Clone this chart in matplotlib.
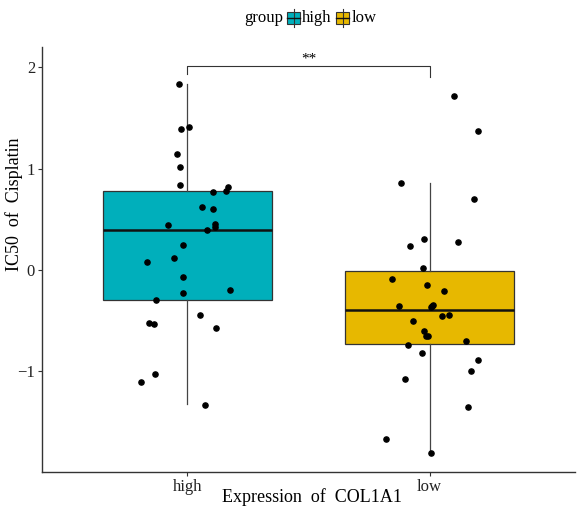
import matplotlib.pyplot as plt
from matplotlib.patches import Rectangle
from matplotlib.lines import Line2D
import numpy as np

plt.rcParams['font.family'] = ['Liberation Serif', 'DejaVu Serif']

# ---- data ----
groups = ["high", "low"]
colors = {"high": "#00AFBB", "low": "#E7B800"}

# box statistics (q1, median, q3, whisker low, whisker high)
box_high = dict(q1=-0.296, med=0.395, q3=0.78, whislo=-1.32, whishi=1.83)
box_low = dict(q1=-0.73, med=-0.40, q3=-0.01, whislo=-1.81, whishi=0.86)

# jittered points: x offset from group centre, value
high_dx = [-0.036, -0.025, 0.005, -0.041, -0.029, -0.029, 0.107, 0.159, 0.169,
           0.059, 0.106, -0.080, 0.113, 0.116, 0.081, -0.019, -0.055, -0.165,
           -0.018, -0.019, 0.175, -0.131, 0.054, -0.160, -0.139, 0.120, -0.135,
           -0.190, 0.074]
high_y = [1.83, 1.39, 1.41, 1.14, 1.02, 0.84, 0.77, 0.78, 0.82, 0.625, 0.60,
          0.44, 0.45, 0.42, 0.39, 0.25, 0.12, 0.076, -0.07, -0.23, -0.20, -0.30,
          -0.44, -0.52, -0.53, -0.57, -1.03, -1.11, -1.33]

low_dx = [0.099, 0.198, -0.120, 0.182, -0.022, -0.080, 0.116, -0.026, -0.156,
          -0.012, 0.059, -0.128, 0.004, 0.012, 0.008, 0.052, 0.079, -0.070,
          -0.022, -0.015, -0.006, 0.149, -0.088, -0.032, 0.198, 0.169, -0.101,
          0.159, -0.180, 0.004]
low_y = [1.72, 1.37, 0.86, 0.70, 0.31, 0.24, 0.28, 0.02, -0.09, -0.15, -0.21,
         -0.36, -0.37, -0.345, -0.36, -0.45, -0.44, -0.50, -0.60, -0.65, -0.65,
         -0.70, -0.74, -0.82, -0.89, -1.00, -1.08, -1.35, -1.67, -1.81]

# ---- plot ----
W, H = 578, 509
fig = plt.figure(figsize=(W / 100, H / 100), dpi=100)
ax = fig.add_axes([42 / W, 37 / H, 533 / W, 425 / H])

stats = []
for name, b in zip(groups, [box_high, box_low]):
    s = dict(b)
    s["label"] = name
    stats.append(s)

bp = ax.bxp(stats, positions=[1, 2], widths=0.7, patch_artist=True,
            showfliers=False, showcaps=False,
            boxprops=dict(edgecolor="#333333", linewidth=0.9),
            medianprops=dict(color="#111111", linewidth=1.8),
            whiskerprops=dict(color="#444444", linewidth=0.9))
for patch, name in zip(bp["boxes"], groups):
    patch.set_facecolor(colors[name])

ax.scatter(1 + np.array(high_dx), high_y, s=14, color="black", zorder=5)
ax.scatter(2 + np.array(low_dx), low_y, s=14, color="black", zorder=5)

# significance bracket
ax.plot([1, 1, 2, 2], [1.93, 2.01, 2.01, 1.90], color="#333333", lw=0.8)
ax.text(1.5, 2.02, "**", ha="center", va="bottom", fontsize=11)

ax.set_xlim(0.4, 2.6)
ax.set_ylim(-1.994, 2.20)
ax.set_yticks([-1, 0, 1, 2])
ax.set_yticklabels(["\u22121", "0", "1", "2"])
ax.set_xticks([1, 2])
ax.set_xticklabels(groups)
ax.tick_params(labelsize=12, length=3, width=0.8, colors="#333333",
               labelcolor="#222222", pad=2)
for side in ["top", "right"]:
    ax.spines[side].set_visible(False)
for side in ["left", "bottom"]:
    ax.spines[side].set_color("#333333")
    ax.spines[side].set_linewidth(1.0)

# axis titles
fig.text(312 / W, 1 - 497 / H, "Expression  of  COL1A1", fontsize=13,
         ha="center", va="center")
fig.text(14 / W, 1 - 204 / H, "IC50  of  Cisplatin", fontsize=13,
         ha="center", va="center", rotation=90)

# legend on top
fig.text(244 / W, 1 - 18 / H, "group", fontsize=12, va="center", ha="left")
for x0, name, tx in [(287, "high", 302), (336, "low", 352)]:
    fig.patches.append(Rectangle((x0 / W, 1 - 24 / H), 13 / W, 12 / H,
                                 transform=fig.transFigure,
                                 facecolor=colors[name], edgecolor="#333333", lw=0.8))
    fig.lines.append(Line2D([(x0 + 6.5) / W] * 2, [1 - 27 / H, 1 - 9 / H],
                            transform=fig.transFigure, color="#333333", lw=0.8))
    fig.lines.append(Line2D([x0 / W, (x0 + 13) / W], [1 - 18 / H] * 2,
                            transform=fig.transFigure, color="#111111", lw=1.0))
    fig.text(tx / W, 1 - 18 / H, name, fontsize=12, va="center", ha="left")

fig.savefig("out.png", dpi=100)
